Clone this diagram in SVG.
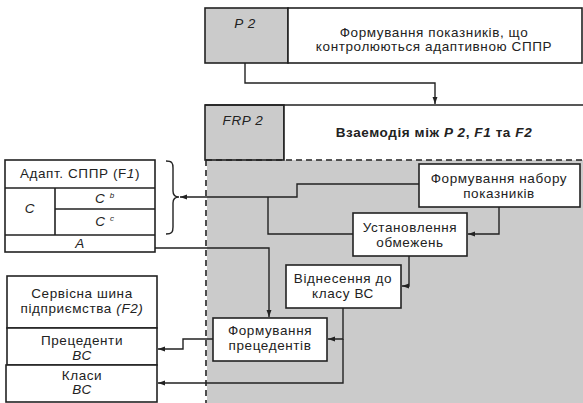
<svg xmlns="http://www.w3.org/2000/svg" width="583" height="403" viewBox="0 0 583 403">
<style>
text{font-family:"Liberation Sans",Arial,sans-serif;font-size:13.5px;letter-spacing:0.6px;fill:#222;text-anchor:middle}
.it{font-style:italic}
.b{font-weight:bold;font-size:13.5px}
.box{fill:#fff;stroke:#222;stroke-width:1.6}
.gbox{fill:#cbcbcb;stroke:#222;stroke-width:1.6}
.ln{fill:none;stroke:#222;stroke-width:1.4}
.dash{fill:none;stroke:#222;stroke-width:1.6;stroke-dasharray:6,4}
</style>
<defs>
<marker id="ar" viewBox="0 0 10 10" refX="10" refY="5" markerWidth="7" markerHeight="7" orient="auto" markerUnits="userSpaceOnUse">
<path d="M0,1.5 L10,5 L0,8.5 Z" fill="#222"/>
</marker>
</defs>
<rect x="207" y="160" width="376" height="243" fill="#cbcbcb"/>
<g id="p2">
<rect class="gbox" x="205" y="8" width="83" height="55"/>
<rect class="box" x="288" y="8" width="294" height="55"/>
<text class="it" x="245" y="28">P 2</text>
<text x="434" y="37">Формування показників, що</text>
<text x="434" y="51">контролюються адаптивною СППР</text>
</g>
<g id="frp2">
<rect class="gbox" x="205" y="105" width="79" height="55"/>
<rect x="284" y="105" width="300" height="55" fill="#fff"/>
<path class="ln" d="M205,105 H584 M284,105 V160" style="stroke-width:1.6"/>
<text class="it" x="243" y="125">FRP 2</text>
<text class="b" x="434" y="137">Взаемодія між <tspan class="it">P 2</tspan>, <tspan class="it">F1</tspan> та <tspan class="it">F2</tspan></text>
<path class="dash" d="M206,160 H583 M206,160 V403"/>
</g>
<g id="nabir">
<rect class="box" x="419" y="164" width="161" height="43"/>
<text x="499" y="183">Формування набору</text>
<text x="499" y="198">показників</text>
</g>
<g id="obmezhennia">
<rect class="box" x="353" y="213" width="114" height="43"/>
<text x="410" y="232">Установлення</text>
<text x="410" y="247">обмежень</text>
</g>
<g id="vidnesennia">
<rect class="box" x="286" y="265" width="115" height="43"/>
<text x="343" y="283">Віднесення до</text>
<text x="343" y="298">класу ВС</text>
</g>
<g id="pretsedenty">
<rect class="box" x="213" y="318" width="114" height="43"/>
<text x="270" y="335">Формування</text>
<text x="270" y="350">прецедентів</text>
</g>
<g id="f1">
<rect class="box" x="5" y="160" width="150" height="92"/>
<path class="ln" d="M5,188 H155 M55,188 V235 M55,209 H155 M5,235 H155" style="stroke-width:1.6"/>
<text x="80" y="178">Адапт. СППР (F<tspan class="it">1</tspan>)</text>
<text class="it" x="30" y="213">C</text>
<text class="it" x="105" y="203">C <tspan font-size="8" dy="-5">b</tspan></text>
<text class="it" x="105" y="226">C <tspan font-size="8" dy="-5">c</tspan></text>
<text class="it" x="80" y="248">A</text>
<path class="ln" d="M166,161 C172,161 173,163 173,168 V191 C173,195 175,197 179,197 C175,197 173,199 173,203 V227 C173,232 172,234 166,234"/>
</g>
<g id="f2">
<rect class="box" x="7" y="276" width="150" height="52"/>
<rect class="box" x="7" y="328" width="150" height="37"/>
<rect class="box" x="6" y="365" width="151" height="37"/>
<text x="82" y="298">Сервісна шина</text>
<text x="82" y="313">підприємства <tspan class="it">(F2)</tspan></text>
<text x="82" y="345">Прецеденти</text>
<text class="it" x="82" y="360">ВС</text>
<text x="82" y="380">Класи</text>
<text class="it" x="82" y="394">ВС</text>
</g>
<g id="connectors">
<path class="ln" d="M245,63 V83 H435 V104" marker-end="url(#ar)"/>
<path class="ln" d="M419,184 H297 V197 H180" marker-end="url(#ar)"/>
<path class="ln" d="M268,197 V234 H353"/>
<path class="ln" d="M499,207 V234 H468" marker-end="url(#ar)"/>
<path class="ln" d="M409,256 V286 H402" marker-end="url(#ar)"/>
<path class="ln" d="M155,248 H269 V317" marker-end="url(#ar)"/>
<path class="ln" d="M343,308 V339 H328" marker-end="url(#ar)"/>
<path class="ln" d="M343,339 V383 H158" marker-end="url(#ar)"/>
<path class="ln" d="M213,339 H183 V349 H158" marker-end="url(#ar)"/>
</g>
</svg>
